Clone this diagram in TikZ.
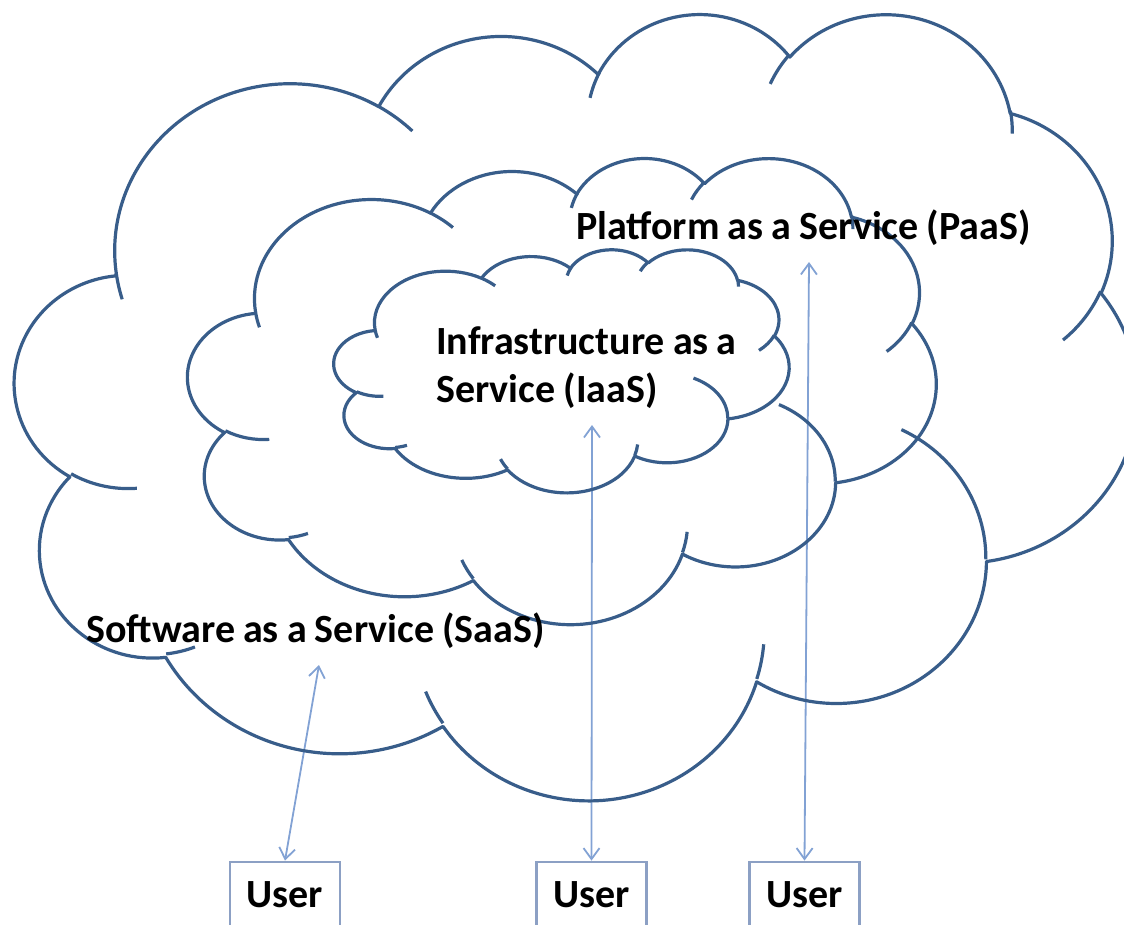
\documentclass[tikz,border=0pt]{standalone}
\usepackage{fontspec}
\setmainfont{Carlito}[WordSpace=0.9]
\usetikzlibrary{arrows.meta}
\definecolor{cloudcol}{RGB}{56,93,138}
\definecolor{arrowcol}{RGB}{130,162,212}
\definecolor{boxcol}{RGB}{140,160,196}
% visual (OOXML) angle -> parametric angle of an ellipse
\newcommand\pa[3]{atan2((#1)*sin(#3),(#2)*cos(#3))+360*round(((#3)-atan2((#1)*sin(#3),(#2)*cos(#3)))/360)}
\newcommand\ooarc[4]{arc[start angle={\pa{#1}{#2}{#3}},end angle={\pa{#1}{#2}{#4}},x radius=#1,y radius=#2]}
% cloud shape in a box: left, top, width, height (pixels, y down)
\newcommand\cloudshape[4]{%
\begin{scope}[shift={(#1,#2)},xscale=#3/432,yscale=#4/432]
\draw[cloudstroke] (39.00,143.70)
 \ooarc{67.53}{91.90}{-190.48748}{-66.70695}
 \ooarc{53.33}{72.67}{-144.10238}{-54.15715}
 \ooarc{43.65}{59.45}{-145.80792}{-46.08490}
 \ooarc{48.57}{65.95}{-130.98607}{-13.74434}
 \ooarc{53.33}{72.73}{-78.70888}{30.31804}
 \ooarc{67.75}{92.20}{-46.26725}{84.00175}
 \ooarc{57.85}{78.67}{0.62502}{114.65835}
 \ooarc{67.52}{92.15}{22.45160}{137.62415}
 \ooarc{77.20}{105.43}{66.24263}{141.95365}
 \ooarc{43.60}{59.18}{-274.94208}{-128.20651}
 \ooarc{43.45}{59.45}{-246.82850}{-94.30965}
 -- cycle;
\draw[cloudstroke]
 (46.93,261.77) \ooarc{43.45}{59.45}{86.74200}{113.17150}
 (69.28,348.99) \ooarc{43.60}{59.18}{73.61047}{85.05794}
 (164.78,390.90) \ooarc{67.52}{92.15}{137.62415}{151.70525}
 (288.27,347.51) \ooarc{67.52}{92.15}{6.45327}{22.45162}
 (341.29,229.54) \ooarc{57.85}{78.67}{-70.29235}{0.62502}
 (417.98,153.54) \ooarc{53.33}{72.73}{30.31803}{58.06953}
 (383.24,54.26) \ooarc{48.57}{65.95}{-13.74433}{1.11457}
 (290.78,39.52) \ooarc{48.57}{65.95}{-149.18145}{-130.98608}
 (221.41,47.20) \ooarc{43.65}{59.45}{-163.49427}{-145.80792}
 (140.00,51.92) \ooarc{67.53}{91.90}{-66.70695}{-54.38760}
 (41.27,157.89) \ooarc{67.53}{91.90}{157.65435}{169.51252};
\end{scope}}
\begin{document}
\begin{tikzpicture}[x=1pt,y=-1pt,
  cloudstroke/.style={draw=cloudcol,line width=3.2pt,line join=round},
  >={Straight Barb[length=11pt,width=16pt]},
  arr/.style={draw=arrowcol,line width=1.8pt,<->},
  userbox/.style={draw=boxcol,line width=2.8pt,minimum width=110pt,minimum height=76pt,
    text height=26pt,text depth=12pt,inner sep=0pt,font=\fontsize{40}{48}\selectfont\bfseries},
  lbl/.style={inner sep=0pt,anchor=base west,font=\fontsize{40}{48}\selectfont\bfseries}]
\useasboundingbox (0,0) rectangle (1124,925);
\clip (0,0) rectangle (1124,925);
% users
\node[userbox] (u1) at (285,900) {User};
\node[userbox] (u2) at (591.5,900) {User};
\node[userbox] (u3) at (804.5,900) {User};
% arrows
\coordinate (stop) at (319,665);
\coordinate (itop) at (592,425);
\coordinate (ptop) at (809,262);
\draw[arr] (stop) -- (u1.north);
\draw[arr] (itop) -- (u2.north);
\draw[arr] (ptop) -- (u3.north);
% clouds
\cloudshape{15}{12}{1122}{786}
\cloudshape{188}{157}{748}{466}
\cloudshape{334}{249}{455}{243}
% labels
\node[lbl] (paas) at (576,240) {Platform as a Service (PaaS)};
\node[lbl] (iaas1) at (436,354) {Infrastructure as a};
\node[lbl] (iaas2) at (436,402) {Service (IaaS)};
\node[lbl] (saas) at (86,642) {Software as a Service (SaaS)};
\end{tikzpicture}
\end{document}
